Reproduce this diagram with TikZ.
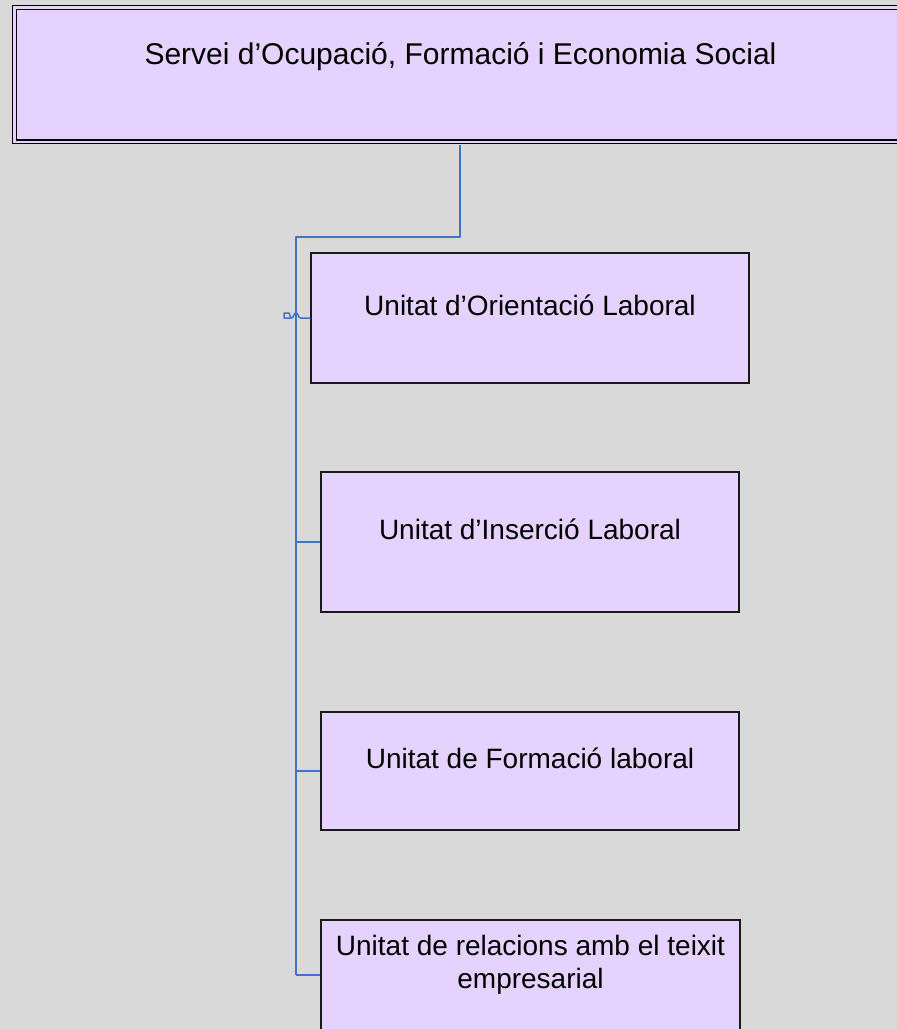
\documentclass[tikz,border=0pt]{standalone}
\usepackage{fontspec}
\setmainfont{Liberation Sans}
\usepackage{xcolor}
\usepackage{tikz}
\definecolor{lavender}{HTML}{E6D2FF}
\definecolor{bggray}{HTML}{D9D9D9}
\definecolor{linkblue}{HTML}{4472C4}
\tikzstyle{service} = [rectangle, draw=black, line width=1.4pt, double=lavender, double distance=2.2pt, fill=lavender, minimum width=891.6pt, minimum height=134.2pt, inner sep=0pt]
\tikzstyle{servtext} = [anchor=base, inner sep=0pt, font=\fontsize{30}{36}\selectfont]
\tikzstyle{unit} = [rectangle, draw=black!90, line width=1.3pt, fill=lavender, minimum width=418pt, inner sep=0pt]
\tikzstyle{unittext} = [anchor=base, inner sep=0pt, align=center, font=\fontsize{28}{33}\selectfont]
\tikzstyle{link} = [draw=linkblue, line width=1.5pt, line join=round]

\begin{document}
\begin{tikzpicture}[x=1pt, y=-1pt]
    \useasboundingbox (0,0) rectangle (897,1029);
    \fill[bggray] (0,0) rectangle (897,1029);
    \clip (0,0) rectangle (897,1029);

    \node (serv) [service] at (460.2,74.5) {};
    \node (servtxt) [servtext] at (460.5,64) {Servei d’Ocupació, Formació i Economia Social};

    \node (orient) [unit, minimum width=438pt, minimum height=130pt] at (530,318) {};
    \node (orienttxt) [unittext] at (530,315) {Unitat d’Orientació Laboral};
    \node (insert) [unit, minimum height=140pt] at (530,542) {};
    \node (inserttxt) [unittext] at (530,539) {Unitat d’Inserció Laboral};
    \node (train) [unit, minimum height=118pt] at (530,771) {};
    \node (traintxt) [unittext] at (530,768) {Unitat de Formació laboral};
    \node (biz) [unit, minimum width=419pt, minimum height=110pt] at (530.5,975) {};
    \node (biztxt) [unittext] at (530.5,988) {Unitat de relacions amb el teixit\\empresarial};

    \coordinate (trunk) at (296,237);
    \draw [link] ([yshift=-2.5pt]serv.south) |- (trunk) -- (biz.west -| trunk);
    \foreach \u in {insert,train,biz}
        \draw [link] (\u.west -| trunk) -- (\u.west);
    % hop over the trunk
    \draw [link] (orient.west) -- ([xshift=4.5pt]orient.west -| trunk)
        .. controls +(-2.5,0) and +(2.5,0) .. ([yshift=5pt]orient.west -| trunk)
        .. controls +(-2.5,0) and +(2.5,0) .. ([xshift=-4.5pt]orient.west -| trunk)
        -- ([xshift=-12pt]orient.west -| trunk) -- ++(0,-5) -- ++(5,0) -- ++(2,5);
\end{tikzpicture}
\end{document}
